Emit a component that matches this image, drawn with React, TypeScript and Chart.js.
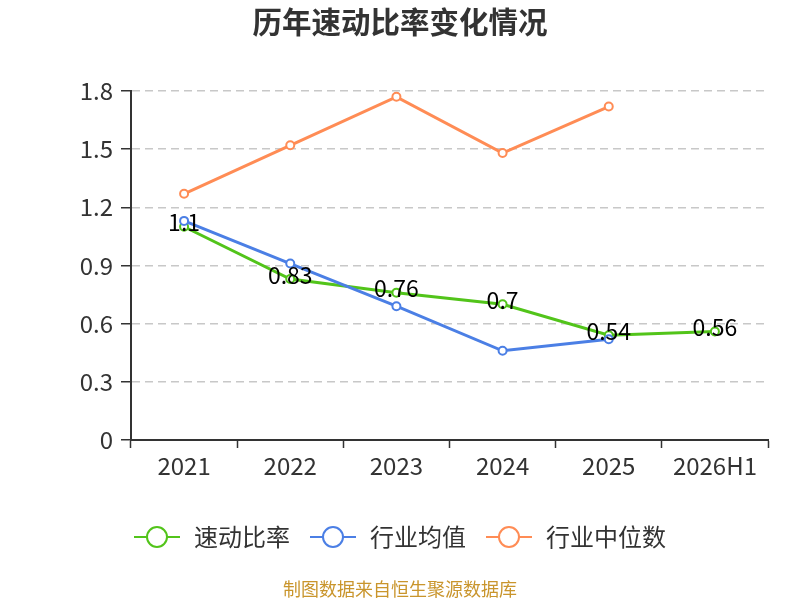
import { useEffect, useRef } from "react";
import { Chart, registerables } from "chart.js";

Chart.register(...registerables);

const FONT = '"Noto Sans CJK SC", "Noto Sans", sans-serif';

const years = ["2021", "2022", "2023", "2024", "2025", "2026H1"];
const quickRatio = [1.1, 0.83, 0.76, 0.7, 0.54, 0.56];
const industryMean = [1.13, 0.91, 0.69, 0.46, 0.52, null];
const industryMedian = [1.27, 1.52, 1.77, 1.48, 1.72, null];
const yTicks = [0, 0.3, 0.6, 0.9, 1.2, 1.5, 1.8];

const seriesNames = ["速动比率", "行业均值", "行业中位数"];
const seriesColors = ["#52c41a", "#4b7fe5", "#ff8c55"];
const titleText = "历年速动比率变化情况";
const sourceText = "制图数据来自恒生聚源数据库";

// black value labels on the quick ratio line
const valueLabels = {
    id: "valueLabels",
    afterDatasetsDraw(chart: Chart) {
        const ctx = chart.ctx;
        const meta = chart.getDatasetMeta(0);
        ctx.save();
        ctx.font = `23px ${FONT}`;
        ctx.fillStyle = "#000";
        ctx.textAlign = "center";
        ctx.textBaseline = "middle";
        meta.data.forEach((pt, i) => {
            ctx.fillText(String(quickRatio[i]), pt.x, pt.y - 4);
        });
        ctx.restore();
    },
};

// title, legend and source line
const frame = {
    id: "frame",
    afterDraw(chart: Chart) {
        const ctx = chart.ctx;
        const cx = chart.width / 2;
        ctx.save();

        ctx.fillStyle = "#333";
        ctx.font = `bold 29.5px ${FONT}`;
        ctx.textAlign = "center";
        ctx.textBaseline = "middle";
        ctx.fillText(titleText, cx, 22);

        ctx.font = `24px ${FONT}`;
        const iconW = 46;
        const textGap = 14;
        const itemGap = 20;
        const widths = seriesNames.map((n) => ctx.measureText(n).width);
        const total =
            widths.reduce((a, w) => a + iconW + textGap + w, 0) + itemGap * (seriesNames.length - 1);
        let x = cx - total / 2;
        const y = 537;
        ctx.textAlign = "left";
        seriesNames.forEach((name, i) => {
            ctx.strokeStyle = seriesColors[i];
            ctx.lineWidth = 2;
            ctx.beginPath();
            ctx.moveTo(x, y);
            ctx.lineTo(x + iconW, y);
            ctx.stroke();
            ctx.beginPath();
            ctx.arc(x + iconW / 2, y, 10, 0, Math.PI * 2);
            ctx.fillStyle = "#fff";
            ctx.fill();
            ctx.stroke();
            ctx.fillStyle = "#333";
            ctx.fillText(name, x + iconW + textGap, y);
            x += iconW + textGap + widths[i] + itemGap;
        });

        ctx.font = `18px ${FONT}`;
        ctx.fillStyle = "#c9952c";
        ctx.textAlign = "center";
        ctx.fillText(sourceText, cx, 589);
        ctx.restore();
    },
};

export default function App() {
    const canvasRef = useRef<HTMLCanvasElement | null>(null);

    useEffect(() => {
        if (!canvasRef.current) {
            return;
        }
        Chart.defaults.font.family = FONT;

        const series = [quickRatio, industryMean, industryMedian];
        const chart = new Chart(canvasRef.current, {
            type: "line",
            data: {
                labels: years,
                datasets: series.map((values, i) => ({
                    label: seriesNames[i],
                    data: values,
                    borderColor: seriesColors[i],
                    backgroundColor: "#fff",
                    borderWidth: 3,
                    pointRadius: 4,
                    pointBorderWidth: 2,
                    pointBackgroundColor: "#fff",
                    pointBorderColor: seriesColors[i],
                    tension: 0,
                    order: [1, 0, 2][i],
                })),
            },
            options: {
                responsive: false,
                animation: false,
                layout: { padding: { top: 91, right: 32, bottom: 0, left: 0 } },
                plugins: {
                    legend: { display: false },
                    title: { display: false },
                    tooltip: { enabled: false },
                },
                scales: {
                    x: {
                        offset: true,
                        afterFit: (scale) => {
                            scale.height = 160;
                        },
                        grid: {
                            offset: true,
                            drawOnChartArea: false,
                            tickLength: 8,
                            tickColor: "#333",
                            tickWidth: 1.5,
                        },
                        border: { color: "#333", width: 2 },
                        ticks: { color: "#333", font: { size: 24 }, padding: 3, maxRotation: 0 },
                    },
                    y: {
                        min: 0,
                        max: 1.8,
                        afterFit: (scale) => {
                            scale.width = 131;
                        },
                        afterBuildTicks: (scale) => {
                            scale.ticks = yTicks.map((v) => ({ value: v }));
                        },
                        grid: {
                            color: (c) => (c.tick && c.tick.value === 0 ? "rgba(0,0,0,0)" : "#c8c8c8"),
                            lineWidth: 1.5,
                            tickLength: 10,
                            tickColor: "#333",
                            tickWidth: 1.5,
                        },
                        border: { color: "#333", width: 2, dash: [8, 5] },
                        ticks: {
                            color: "#333",
                            font: { size: 24 },
                            padding: 8,
                            callback: (v) => String(Number(Number(v).toFixed(1))),
                        },
                    },
                },
            },
            plugins: [valueLabels, frame],
        });

        return () => chart.destroy();
    }, []);

    return (
        <div style={{ position: "absolute", left: 0, top: 0, width: 800, height: 600, background: "#fff" }}>
            <canvas ref={canvasRef} width={800} height={600} />
        </div>
    );
}
